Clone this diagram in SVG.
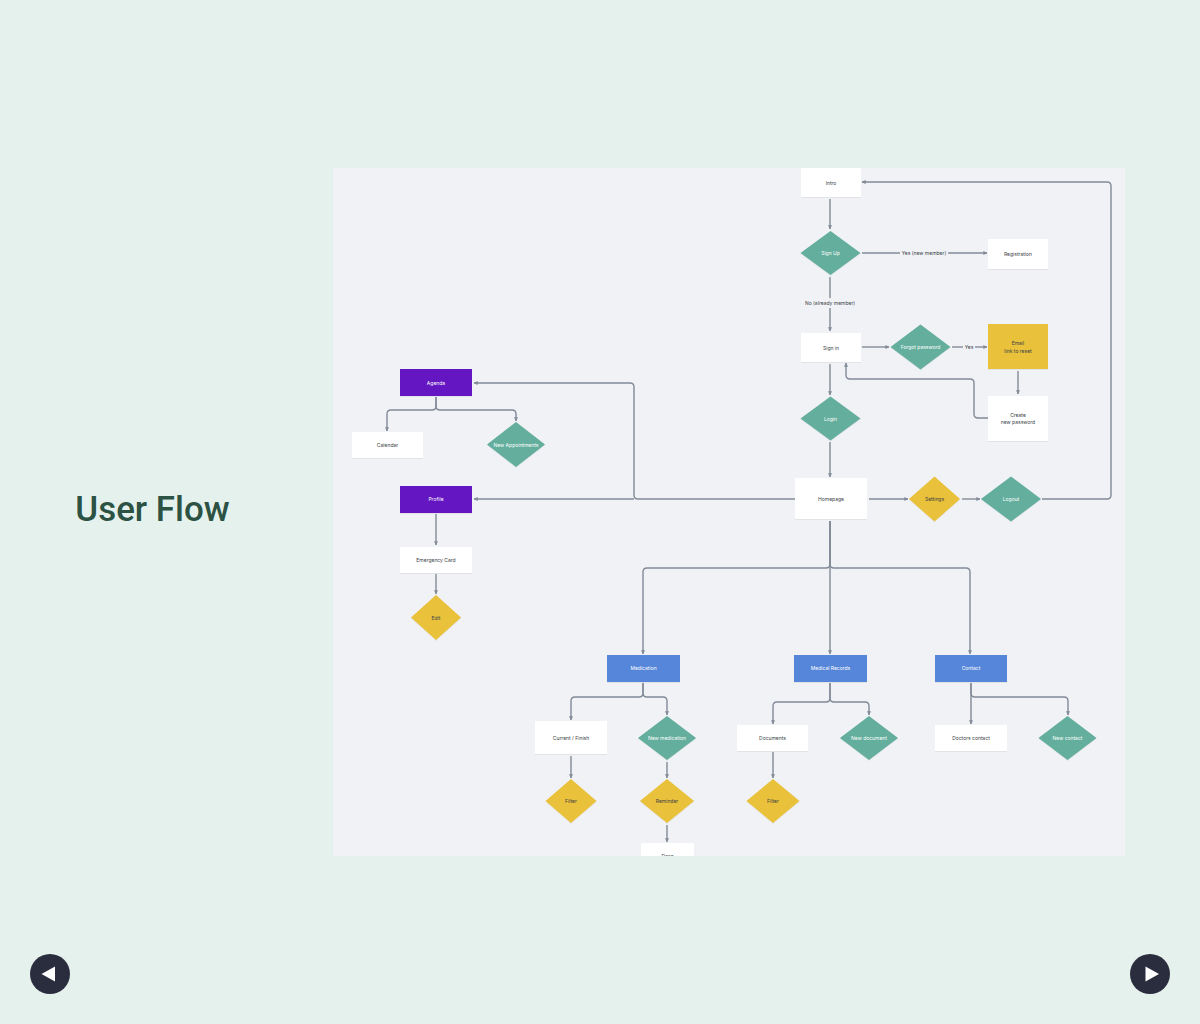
<svg xmlns="http://www.w3.org/2000/svg" width="1200" height="1024" viewBox="0 0 1200 1024">
<defs>
<style>
.t{font-family:Inter,"Liberation Sans",Arial,sans-serif;font-size:5px;text-anchor:middle;dominant-baseline:central}
.dk{fill:#3a3f47}.wt{fill:#ffffff}
.box{fill:#ffffff}
.teal{fill:#63ae9c}.yel{fill:#e9c13b}.pur{fill:#6314c1}.blu{fill:#5686d9}
.c{fill:none;stroke:#818b98;stroke-width:1.4;marker-end:url(#ah)}
.cn{fill:none;stroke:#818b98;stroke-width:1.4}
.lbl{fill:#f1f2f6}
</style>
<marker id="ah" viewBox="0 0 6 6" refX="5.5" refY="3" markerWidth="4" markerHeight="4" markerUnits="userSpaceOnUse" orient="auto">
<path d="M0,0 L6,3 L0,6 z" fill="#818b98"/>
</marker>
<clipPath id="pc"><rect x="333" y="168" width="792" height="688"/></clipPath>
<filter id="sh" x="-10%" y="-10%" width="120%" height="130%"><feDropShadow dx="0" dy="0.5" stdDeviation="0.6" flood-color="#000" flood-opacity="0.12"/></filter>
</defs>
<rect width="1200" height="1024" fill="#e5f1ed"/>
<text x="152.5" y="521" font-family="Roboto,'Liberation Sans',sans-serif" font-size="34.9" font-weight="500" fill="#2c5243" text-anchor="middle">User Flow</text>
<g id="nav-prev"><circle cx="50" cy="974" r="20" fill="#2a2d3e"/><path d="M41.5,974 L55,966.5 L55,981.5 z" fill="#ffffff"/></g>
<g id="nav-next"><circle cx="1150" cy="974" r="20" fill="#2a2d3e"/><path d="M1159,974 L1145.5,966.5 L1145.5,981.5 z" fill="#ffffff"/></g>
<rect x="333" y="168" width="792" height="688" fill="#f1f2f6"/>
<g clip-path="url(#pc)">
<g id="connectors">
<path class="c" d="M830,199 V229"/>
<path class="cn" d="M862,253 H900"/>
<path class="c" d="M948,253 H987"/>
<rect class="lbl" x="900" y="249" width="48" height="8"/>
<text class="t dk" x="924" y="253">Yes (new member)</text>
<path class="cn" d="M830,277 V298"/>
<path class="c" d="M830,308 V331"/>
<text class="t dk" x="830" y="303">No (already member)</text>
<path class="c" d="M862,347 H889"/>
<path class="cn" d="M952,347 H963"/>
<path class="c" d="M975,347 H987"/>
<text class="t dk" x="969" y="347">Yes</text>
<path class="c" d="M1018,371 V394"/>
<path class="c" d="M988,418 H978 Q974,418 974,414 V383 Q974,379 970,379 H850 Q846,379 846,375 V363"/>
<path class="c" d="M830,364 V395"/>
<path class="c" d="M830,442 V477"/>
<path class="c" d="M869,499 H908"/>
<path class="c" d="M962,499 H980"/>
<path class="c" d="M1042,499 H1107 Q1111,499 1111,495 V186 Q1111,182 1107,182 H862"/>
<path class="c" d="M795,499 H638 Q634,499 634,495 V387 Q634,383 630,383 H474"/>
<path class="c" d="M634,499 H474"/>
<path class="c" d="M436,397 V406 Q436,410 432,410 H391 Q387,410 387,414 V431"/>
<path class="c" d="M436,397 V406 Q436,410 440,410 H512 Q516,410 516,414 V421"/>
<path class="c" d="M436,514 V545"/>
<path class="c" d="M436,574 V594"/>
<path class="c" d="M830,521 V654"/>
<path class="c" d="M830,521 V564 Q830,568 826,568 H647 Q643,568 643,572 V654"/>
<path class="c" d="M830,521 V564 Q830,568 834,568 H966 Q970,568 970,572 V654"/>
<path class="c" d="M643,683 V693 Q643,697 639,697 H575 Q571,697 571,701 V720"/>
<path class="c" d="M643,683 V693 Q643,697 647,697 H663 Q667,697 667,701 V715"/>
<path class="c" d="M571,756 V778"/>
<path class="c" d="M667,762 V778"/>
<path class="c" d="M667,825 V842"/>
<path class="c" d="M830,683 V698 Q830,702 826,702 H777 Q773,702 773,706 V724"/>
<path class="c" d="M830,683 V698 Q830,702 834,702 H865 Q869,702 869,706 V715"/>
<path class="c" d="M773,752 V778"/>
<path class="c" d="M971,683 V724"/>
<path class="c" d="M971,683 V693 Q971,697 975,697 H1064 Q1068,697 1068,701 V715"/>
</g>
<g id="intro"><rect class="box" filter="url(#sh)" x="801" y="168" width="60" height="29"/><text class="t dk" x="831" y="182.5">Intro</text></g>
<g id="signup"><path class="teal" filter="url(#sh)" d="M830.5,231 L860.5,253 L830.5,275 L800.5,253 z"/><text class="t wt" x="830.5" y="253">Sign Up</text></g>
<g id="registration"><rect class="box" filter="url(#sh)" x="988" y="239" width="60" height="30"/><text class="t dk" x="1018" y="254">Registration</text></g>
<g id="signin"><rect class="box" filter="url(#sh)" x="801" y="333" width="60" height="29"/><text class="t dk" x="831" y="347.5">Sign in</text></g>
<g id="forgot"><path class="teal" filter="url(#sh)" d="M920.5,324.5 L950.5,347 L920.5,369.5 L890.5,347 z"/><text class="t wt" x="920.5" y="347">Forgot password</text></g>
<g id="email"><rect class="yel" filter="url(#sh)" x="988" y="324" width="60" height="45"/><text class="t dk" x="1018" y="343">Email</text><text class="t dk" x="1018" y="351">link to reset</text></g>
<g id="create"><rect class="box" filter="url(#sh)" x="988" y="396" width="60" height="45"/><text class="t dk" x="1018" y="414.5">Create</text><text class="t dk" x="1018" y="422">new password</text></g>
<g id="login"><path class="teal" filter="url(#sh)" d="M830.5,396.5 L860.5,418.5 L830.5,440.5 L800.5,418.5 z"/><text class="t wt" x="830.5" y="418.5">Login</text></g>
<g id="homepage"><rect class="box" filter="url(#sh)" x="795" y="478" width="72" height="41"/><text class="t dk" x="831" y="498.5">Homepage</text></g>
<g id="settings"><path class="yel" filter="url(#sh)" d="M934.5,476.5 L960,499 L934.5,521.5 L909,499 z"/><text class="t dk" x="934.5" y="499">Settings</text></g>
<g id="logout"><path class="teal" filter="url(#sh)" d="M1011,476.5 L1041,499 L1011,521.5 L981,499 z"/><text class="t wt" x="1011" y="499">Logout</text></g>
<g id="agenda"><rect class="pur" filter="url(#sh)" x="400" y="369" width="72" height="27"/><text class="t wt" x="436" y="382.5">Agenda</text></g>
<g id="calendar"><rect class="box" filter="url(#sh)" x="352" y="432" width="71" height="26"/><text class="t dk" x="387.5" y="445">Calendar</text></g>
<g id="newappt"><path class="teal" filter="url(#sh)" d="M516,422 L545,444.5 L516,467 L487,444.5 z"/><text class="t wt" x="516" y="444.5">New Appointments</text></g>
<g id="profile"><rect class="pur" filter="url(#sh)" x="400" y="486" width="72" height="27"/><text class="t wt" x="436" y="499">Profile</text></g>
<g id="emergency"><rect class="box" filter="url(#sh)" x="400" y="547" width="72" height="26"/><text class="t dk" x="436" y="559.5">Emergency Card</text></g>
<g id="edit"><path class="yel" filter="url(#sh)" d="M436,595 L461,617.5 L436,640 L411,617.5 z"/><text class="t dk" x="436" y="617.5">Edit</text></g>
<g id="medication"><rect class="blu" filter="url(#sh)" x="607" y="655" width="73" height="27"/><text class="t wt" x="643.5" y="668">Medication</text></g>
<g id="current"><rect class="box" filter="url(#sh)" x="535" y="721" width="72" height="33"/><text class="t dk" x="571" y="737.5">Current / Finish</text></g>
<g id="newmed"><path class="teal" filter="url(#sh)" d="M667,716 L696,738 L667,760 L638,738 z"/><text class="t wt" x="667" y="738">New medication</text></g>
<g id="filter1"><path class="yel" filter="url(#sh)" d="M571,779 L596.5,801 L571,823 L545.5,801 z"/><text class="t dk" x="571" y="801">Filter</text></g>
<g id="reminder"><path class="yel" filter="url(#sh)" d="M667,779 L694,801 L667,823 L640,801 z"/><text class="t dk" x="667" y="801">Reminder</text></g>
<g id="dose"><rect class="box" filter="url(#sh)" x="641" y="843" width="53" height="30"/><text class="t dk" x="667.5" y="856">Dose</text></g>
<g id="medrecords"><rect class="blu" filter="url(#sh)" x="794" y="655" width="73" height="27"/><text class="t wt" x="830.5" y="668">Medical Records</text></g>
<g id="documents"><rect class="box" filter="url(#sh)" x="737" y="725" width="71" height="26"/><text class="t dk" x="772.5" y="738">Documents</text></g>
<g id="newdoc"><path class="teal" filter="url(#sh)" d="M869,716 L898,738 L869,760 L840,738 z"/><text class="t wt" x="869" y="738">New document</text></g>
<g id="filter2"><path class="yel" filter="url(#sh)" d="M773,779 L799.5,801 L773,823 L746.5,801 z"/><text class="t dk" x="773" y="801">Filter</text></g>
<g id="contact"><rect class="blu" filter="url(#sh)" x="935" y="655" width="72" height="27"/><text class="t wt" x="971" y="668">Contact</text></g>
<g id="doctors"><rect class="box" filter="url(#sh)" x="935" y="725" width="72" height="26"/><text class="t dk" x="971" y="738">Doctors contact</text></g>
<g id="newcontact"><path class="teal" filter="url(#sh)" d="M1067.5,716 L1096.5,738 L1067.5,760 L1038.5,738 z"/><text class="t wt" x="1067.5" y="738">New contact</text></g>
</g>
</svg>
